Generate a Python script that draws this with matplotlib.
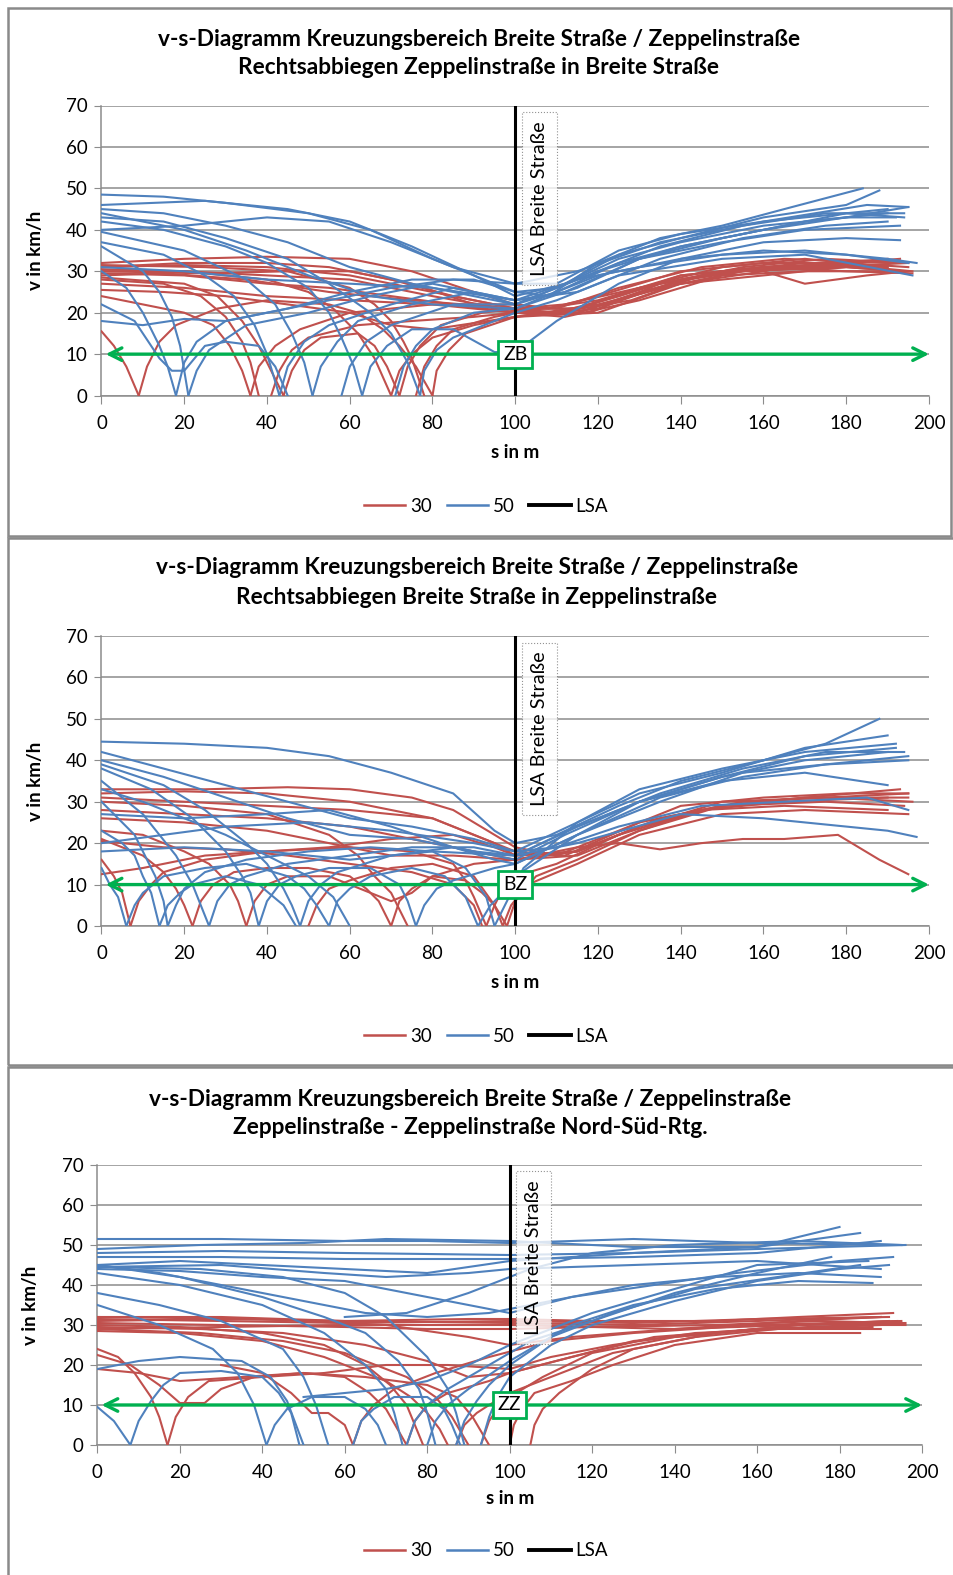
import matplotlib
matplotlib.use("Agg")
import matplotlib.pyplot as plt
from matplotlib.patches import Rectangle
from matplotlib.lines import Line2D

plt.rcParams['font.family'] = ['Lato', 'DejaVu Sans']

# Diagrammtitel
titles = [
    ("v-s-Diagramm Kreuzungsbereich Breite Straße / Zeppelinstraße",
     "Rechtsabbiegen Zeppelinstraße in Breite Straße"),
    ("v-s-Diagramm Kreuzungsbereich Breite Straße / Zeppelinstraße",
     "Rechtsabbiegen Breite Straße in Zeppelinstraße"),
    ("v-s-Diagramm Kreuzungsbereich Breite Straße / Zeppelinstraße",
     "Zeppelinstraße - Zeppelinstraße Nord-Süd-Rtg."),
]
zone_labels = ["ZB", "BZ", "ZZ"]
legend_labels = ["30", "50", "LSA"]
x_ticks = [0, 20, 40, 60, 80, 100, 120, 140, 160, 180, 200]
y_ticks = [0, 10, 20, 30, 40, 50, 60, 70]
lsa_pos = 100
zone_speed = 10

# Fahrkurven (s in m, v in km/h)
p1_red = [
    [(0,32),(20,33),(40,33.5),(60,33),(75,30),(90,25),(100,22),(108,21),(120,24),(140,30),(160,32),(180,32),(195,31)],
    [(0,31),(20,31.5),(40,31),(60,29),(80,25),(95,22),(100,21),(110,20),(125,24),(140,29),(160,31),(180,31.5),(196,30)],
    [(0,30),(20,30),(40,29),(60,28),(80,24),(100,20.5),(115,20),(130,25),(150,30),(170,32),(190,31)],
    [(0,29),(15,29.5),(35,28),(55,25),(75,23),(100,21),(115,21),(135,27),(155,31),(175,33),(195,32)],
    [(0,27),(20,26),(40,24),(60,23),(80,22),(100,20),(112,19),(130,23),(150,29),(170,30),(190,30)],
    [(0,25.5),(15,25),(30,24),(45,22),(60,20),(70,17),(80,16),(100,19),(120,22),(140,27),(160,30),(170,27),(185,29),(195,30)],
    [(0,31),(20,32),(40,32),(55,31),(70,28),(85,24),(100,21),(115,21),(130,26),(150,30),(170,31),(190,31.5)],
    [(0,30),(25,29.5),(45,30),(60,30),(75,27),(90,22),(100,20),(118,20),(135,27),(155,30),(180,31),(194,30)],
    [(0,29.5),(20,29),(40,27),(55,26),(70,24),(85,22),(100,20),(110,20),(128,23),(145,29),(165,31),(190,33)],
    [(0,31.5),(25,31),(45,30),(60,26),(66,22),(70,18),(73,13),(75,9),(78,0)],
    [(0,30.5),(20,30),(40,28),(50,25),(56,21),(62,15),(66,9),(70,0)],
    [(0,28),(15,27),(24,24),(30,19),(34,13),(36,8),(38,0)],
    [(0,15.5),(3,12),(6,7),(9,0)],
    [(9,0),(11,7),(14,13),(18,17),(28,21),(40,23),(55,22),(62,20),(68,16),(72,12),(76,7),(80,0)],
    [(36,0),(38,7),(42,12),(48,16),(60,20),(80,22),(100,22),(110,21),(125,26),(145,31),(165,33),(190,32)],
    [(41,0),(43,6),(46,11),(50,14),(62,17),(75,18),(90,19),(100,20),(115,20),(135,26),(155,30),(175,31),(195,32)],
    [(0,28.5),(20,27),(28,24),(34,18),(38,12),(41,6),(44,0)],
    [(70,0),(72,6),(75,10),(80,14),(90,17),(100,19),(120,21),(140,28),(160,31),(180,32),(193,33)],
    [(72,0),(74,7),(77,12),(82,17),(92,20),(100,21),(112,22),(130,26),(150,31),(170,33),(190,31)],
    [(76,0),(78,7),(81,12),(85,16),(95,19),(100,20),(120,23),(140,29),(160,31),(180,30),(196,29.5)],
    [(80,0),(81,6),(84,11),(88,15),(100,19),(120,20),(140,27),(160,29),(180,31),(193,30)],
    [(0,24),(10,22),(20,20),(27,17),(31,12),(34,6),(36,0)],
    [(44,0),(46,6),(49,11),(53,14),(62,15),(66,12),(69,7),(72,0)],
]
p1_blue = [
    [(0,48.5),(15,48),(30,46.5),(50,44),(65,40),(80,33),(95,27),(100,25),(108,24),(120,32),(135,38),(150,41),(165,45),(184,50)],
    [(0,46),(25,47),(45,45),(60,42),(75,36),(90,29),(100,24),(112,27),(125,34),(140,38),(160,43),(180,46),(188,49.5)],
    [(0,45),(15,44),(30,41),(45,37),(60,31),(75,27),(90,24),(100,22),(110,25),(125,32),(140,36),(160,40),(180,43),(195,45.5)],
    [(0,44),(20,40),(35,35),(50,29),(65,24),(80,22),(100,21),(115,26),(130,33),(150,38),(170,42),(190,44)],
    [(0,42),(15,40),(30,36),(40,32),(50,26),(55,20),(58,14),(61,7),(63,0)],
    [(0,40),(20,41),(40,43),(55,42),(70,37),(85,31),(100,27),(110,27),(125,35),(140,39),(160,42),(185,46),(195,45.5)],
    [(0,39.5),(20,35),(35,28),(42,22),(46,15),(49,8),(51,0)],
    [(0,37),(15,34),(25,29),(32,24),(37,17),(40,10),(43,0)],
    [(0,36),(10,30),(14,25),(17,19),(19,12),(21,0)],
    [(0,30),(6,26),(10,20),(14,12),(16,7),(18,0)],
    [(0,22),(8,18),(14,9),(17,6),(20,6),(25,12),(30,13),(38,12),(42,7),(45,0)],
    [(18,0),(20,8),(23,13),(30,18),(45,21),(60,25),(75,28),(90,28),(100,25),(110,26),(125,33),(140,37),(160,41),(180,43),(192,43)],
    [(21,0),(23,6),(26,11),(35,17),(50,20),(65,24),(80,27),(100,23),(115,25),(135,33),(155,38),(175,41),(190,42)],
    [(43,0),(45,7),(49,13),(55,17),(70,22),(85,26),(100,23),(112,25),(130,33),(150,37),(170,40),(193,41)],
    [(51,0),(53,7),(57,13),(62,18),(75,22),(90,25),(100,22),(115,28),(135,36),(155,41),(175,44),(194,44)],
    [(58,0),(60,7),(64,13),(70,17),(85,22),(100,22),(120,30),(140,36),(160,40),(180,44),(194,43)],
    [(63,0),(65,7),(69,12),(75,16),(85,16),(95,10.5),(98,10.5),(102,12),(110,18),(125,27),(140,33),(160,37),(180,38),(193,37.5)],
    [(71,0),(73,7),(76,12),(80,16),(90,20),(100,21),(120,29),(140,33),(160,35),(180,34),(195,32)],
    [(77,0),(78,6),(81,11),(85,14),(95,18),(100,20),(110,23),(125,29),(150,33),(170,34),(196,29)],
    [(0,31),(20,30),(40,28),(60,27),(80,26),(100,23),(115,28),(130,31),(150,34),(170,35),(190,33),(197,32)],
    [(0,18),(10,17),(20,18.5),(30,18),(40,20),(55,23),(70,26),(85,28),(100,27),(115,30),(135,37),(160,42),(190,45)],
    [(0,43),(15,42),(30,38),(45,33),(55,27),(65,20),(70,15),(74,8),(77,0)],
]

p2_red = [
    [(0,33),(25,33),(45,33.5),(60,33),(75,31),(85,28),(95,22),(100,19),(110,17),(125,23),(140,29),(160,31),(180,32),(195,32)],
    [(0,32),(20,32.5),(40,32),(60,30),(80,26),(95,20),(100,18),(112,17),(130,25),(150,29),(170,31),(195,31)],
    [(0,31),(20,30),(40,29),(60,28),(80,26),(95,20),(100,17),(115,18),(130,24),(150,30),(175,31),(196,30)],
    [(0,28),(20,27),(40,26),(60,24),(80,20),(100,16),(115,17),(130,23),(145,28),(165,29),(190,28)],
    [(0,26),(20,25),(40,23),(55,20),(70,17),(85,17),(100,16),(115,19),(125,20),(135,18.5),(145,20),(155,21),(165,21),(178,22),(188,16),(195,12.5)],
    [(0,23),(10,22),(20,18),(26,15),(31,10),(33,6),(35,0)],
    [(0,21),(10,17),(15,13),(18,9),(20,5),(22,0)],
    [(0,16),(3,12),(5,8),(7,0)],
    [(7,0),(9,6),(12,10),(15,13),(25,16),(40,18),(60,19),(75,18),(85,15),(88,11),(90,7),(93,0)],
    [(22,0),(24,6),(27,10),(32,13),(40,14),(50,14),(60,12),(64,9),(67,6),(70,0)],
    [(35,0),(37,6),(40,10),(45,12),(55,12),(65,8),(70,6),(75,8),(80,12),(90,15),(100,16),(115,18),(130,24),(150,29),(175,30),(194,29)],
    [(70,0),(72,6),(75,9),(80,12),(88,11),(92,8),(95,5),(98,0)],
    [(93,0),(95,5),(97,9),(100,12),(110,15),(125,22),(145,28),(165,30),(190,31)],
    [(0,12.5),(10,14),(25,17),(40,18),(55,19),(70,21),(85,22),(95,19),(100,17),(115,18),(135,26),(155,30),(175,31),(195,32)],
    [(50,0),(52,5),(55,9),(60,11),(70,14),(80,15),(90,12),(95,5),(97,0),(99,5),(103,10),(115,15),(130,22),(150,27),(170,28),(195,27)],
    [(0,30),(20,29),(40,27),(55,22),(62,17),(66,12),(70,8),(74,0)],
    [(98,0),(100,6),(105,12),(115,16),(130,23),(150,29),(170,31),(193,33)],
    [(0,20.5),(15,19),(30,18.5),(45,17),(60,15),(75,13),(85,10),(90,5),(92,0)],
]
p2_blue = [
    [(0,44.5),(20,44),(40,43),(55,41),(70,37),(85,32),(95,23),(100,20),(110,22),(125,29),(140,35),(160,40),(175,44),(188,50)],
    [(0,42),(15,38),(30,34),(45,30),(60,26),(75,24),(90,21),(100,18),(115,25),(130,32),(150,37),(170,43),(190,46)],
    [(0,40),(15,36),(30,31),(45,26),(60,22),(75,21),(90,18),(100,17),(115,24),(130,30),(150,36),(170,40),(190,42)],
    [(0,39),(15,34),(25,28),(35,20),(40,15),(44,9),(46,5),(48,0)],
    [(0,38),(12,33),(22,26),(30,18),(34,12),(36,8),(38,0)],
    [(0,35),(10,27),(18,17),(22,10),(24,5),(26,0)],
    [(0,30),(8,22),(11,16),(13,12),(15,6),(16,0)],
    [(0,27),(20,26),(40,27),(55,28),(70,24),(85,19),(95,16),(100,15),(115,22),(135,30),(155,37),(175,39),(195,41)],
    [(0,23),(5,20),(8,17),(10,12),(12,8),(14,0)],
    [(0,14),(2,10),(4,7),(6,0)],
    [(6,0),(8,5),(10,8),(15,12),(25,14),(35,15),(45,12),(49,9),(52,5),(55,0)],
    [(16,0),(18,5),(20,9),(25,13),(35,16),(50,18),(65,19),(80,18),(88,14),(93,7),(95,0)],
    [(26,0),(28,6),(31,10),(35,12),(45,15),(60,17),(75,19),(90,19),(100,17),(115,24),(135,32),(155,38),(175,42),(194,42)],
    [(38,0),(40,6),(43,10),(47,12),(55,14),(65,14),(72,10),(74,6),(76,0)],
    [(48,0),(50,6),(53,10),(57,13),(70,17),(85,19),(100,16),(112,22),(130,30),(150,36),(170,41),(192,43)],
    [(55,0),(57,6),(60,9),(65,12),(75,14),(83,12),(88,7),(91,0)],
    [(76,0),(78,5),(81,9),(85,11),(95,14),(100,15),(115,22),(135,31),(155,36),(175,39),(195,40)],
    [(91,0),(94,5),(97,8),(100,12),(115,22),(130,30),(150,35),(170,37),(190,34)],
    [(0,20),(15,22),(30,24),(50,25),(70,23),(90,20),(100,18),(110,19),(125,24),(145,29),(165,30),(185,31),(195,28)],
    [(0,18),(20,19),(40,18),(60,16),(80,18),(100,17),(115,20),(140,27),(160,26),(180,24),(190,23),(197,21.5)],
    [(14,0),(16,5),(19,8),(22,10),(30,12),(38,10),(44,5),(47,0)],
    [(95,0),(98,6),(102,14),(115,25),(130,33),(150,38),(170,42),(192,44)],
    [(0,33),(10,30),(20,26),(30,22),(40,17),(50,12),(56,7),(60,0)],
]

p3_red = [
    [(0,32),(30,32),(60,31),(90,31.5),(100,31.5),(120,31),(150,31),(170,32),(193,33)],
    [(0,31),(30,31.5),(60,31),(100,30.5),(130,30),(160,31),(190,32)],
    [(0,30.5),(30,30),(60,29.5),(80,29),(100,29),(120,29.5),(150,30),(175,31),(195,30.5)],
    [(0,31.5),(30,31),(60,30.5),(100,31),(130,30.5),(160,31.5),(192,32)],
    [(0,29),(30,29.5),(60,30),(100,30),(140,29),(170,30),(196,30.5)],
    [(0,32),(40,31.5),(70,30),(90,27),(100,25),(115,27),(140,29),(170,31),(190,32)],
    [(0,29.5),(25,29),(45,28),(65,25),(80,21),(90,17),(100,18),(115,22),(135,27),(160,29),(185,30),(196,30)],
    [(0,28.5),(20,28),(40,26),(55,22),(70,16),(76,12),(80,8),(83,4),(85,0)],
    [(0,30),(20,29.5),(40,28),(55,25),(65,20),(71,15),(75,10),(79,0)],
    [(0,29),(25,28),(45,26),(60,23),(75,17),(82,12),(86,7),(90,0)],
    [(0,24),(5,22),(9,18),(13,12),(15,7),(17,0)],
    [(0,22.5),(8,20),(15,15),(20,10.5),(26,10.5),(30,14),(38,17),(50,18),(60,17),(66,13),(70,9),(75,0)],
    [(17,0),(19,7),(22,12),(27,16),(40,17),(55,18),(70,20),(85,20),(100,19),(110,22),(125,25),(145,28),(165,29),(190,29)],
    [(30,20),(40,18),(47,13),(52,8),(56,8),(60,5),(62,0)],
    [(75,0),(77,6),(80,10),(85,13),(95,16),(100,18),(115,22),(130,26),(150,28),(170,30),(192,31)],
    [(87,0),(89,5),(92,8),(95,10),(100,13),(110,17),(125,23),(145,27),(165,29),(190,30)],
    [(93,0),(95,6),(97,9),(100,12),(108,17),(120,23),(140,27),(160,29),(188,29.5)],
    [(100,0),(101,5),(103,9),(106,13),(115,16),(125,20),(140,25),(160,28),(185,28)],
    [(105,0),(106,5),(108,9),(112,13),(120,19),(130,24),(150,28),(170,30),(194,31)],
    [(0,19),(10,18),(20,16),(35,17),(50,18),(65,17),(80,15),(87,12),(91,7),(95,0)],
    [(62,0),(64,6),(67,10),(72,14),(82,18),(95,22),(110,26),(130,28),(160,30),(195,31)],
]
p3_blue = [
    [(0,51.5),(30,51.5),(60,51),(80,51),(100,50.5),(130,51.5),(160,50.5),(195,50)],
    [(0,49),(25,50),(50,50.5),(70,51.5),(100,51),(130,49.5),(160,49.5),(185,53)],
    [(0,48),(30,48.5),(60,48),(100,47.5),(130,48),(160,49.5),(180,54.5)],
    [(0,47),(30,47),(60,46.5),(100,46.5),(130,47),(160,48),(190,51)],
    [(0,45),(20,46),(40,45),(60,44),(80,43),(100,46),(130,48),(160,49),(196,50)],
    [(0,44.5),(30,45),(55,43),(70,42),(90,43),(100,44),(130,45),(160,46),(190,44)],
    [(0,44),(20,43.5),(40,42),(60,41),(75,38),(90,35),(100,33),(115,37),(135,40),(155,43),(180,46),(193,47)],
    [(0,45),(15,43),(30,40),(50,36),(65,33),(80,32),(95,33),(110,36),(130,40),(150,42),(170,43),(190,42)],
    [(0,45),(20,42),(40,37),(55,32),(65,28),(73,21),(78,14),(80,8),(82,0)],
    [(0,43),(20,40),(40,35),(55,28),(65,20),(70,14),(72,8),(74,0)],
    [(0,44.5),(25,44),(45,42),(60,38),(70,32),(80,22),(85,14),(87,8),(89,0)],
    [(0,38),(15,35),(30,31),(45,24),(50,17),(53,10),(56,0)],
    [(0,35),(15,30),(28,24),(34,18),(38,10),(41,0)],
    [(0,19),(10,21),(20,22),(35,21),(42,17),(46,11),(50,0)],
    [(0,9.5),(4,6),(8,0),(10,6),(13,11),(16,15),(20,18),(30,18.5),(40,17),(44,13),(47,8),(49,0)],
    [(41,0),(43,5),(46,9),(52,12),(60,12),(65,9),(68,5),(70,0)],
    [(62,0),(64,6),(67,9),(72,12),(80,12),(84,9),(86,5),(88,0)],
    [(93,0),(95,7),(97,12),(100,17),(110,25),(120,30),(140,36),(160,41),(180,44),(192,45)],
    [(87,0),(89,6),(92,11),(95,15),(100,20),(110,27),(125,33),(145,39),(165,42),(185,45)],
    [(80,0),(82,6),(85,10),(90,14),(100,21),(115,30),(130,35),(150,39),(170,41),(188,40.5)],
    [(75,0),(77,6),(80,10),(85,14),(95,20),(105,26),(120,31),(140,38),(160,43),(178,47)],
    [(50,12),(60,13),(70,14),(80,16),(90,20),(100,25),(120,33),(140,39),(160,45),(187,46)],
    [(60,32),(75,33),(90,38),(105,44),(120,48),(140,50),(170,51),(195,50)],
]

panels = [(p1_red, p1_blue), (p2_red, p2_blue), (p3_red, p3_blue)]

W, H = 954, 1575
fig = plt.figure(figsize=(W / 100, H / 100), dpi=100)

RED = '#C0504D'
BLUE = '#4F81BD'
GREEN = '#00B050'
GRID = '#8C8C8C'

# Layout in Pixeln: Rahmen, Achsen, Titel, Achsentitel, Legende
frames = [(8, 8, 951, 536), (8, 538, 956, 1065), (8, 1067, 956, 1578)]
axes_px = [(101.5, 105.5, 929, 395.6), (101.5, 636, 929, 926), (97.4, 1165, 922, 1445)]
title_y = [(40, 68), (568, 597), (1099, 1127)]
title_x = [479, 477, 470]
xlabel_y = [452, 982, 1499]
legend_y = [506, 1036, 1551]

for i, (red, blue) in enumerate(panels):
    x0, y0, x1, y1 = frames[i]
    fig.add_artist(Rectangle((x0 / W, 1 - y1 / H), (x1 - x0) / W, (y1 - y0) / H,
                             transform=fig.transFigure, fill=False, ec='#8a8a8a', lw=1.8))

    l, t, r, b = axes_px[i]
    ax = fig.add_axes([l / W, 1 - b / H, (r - l) / W, (b - t) / H])

    for line in red:
        ax.plot([p[0] for p in line], [p[1] for p in line], color=RED, lw=1.5, zorder=3)
    for line in blue:
        ax.plot([p[0] for p in line], [p[1] for p in line], color=BLUE, lw=1.5, zorder=3)

    ax.axvline(lsa_pos, color='black', lw=2.2, zorder=5)

    ax.annotate('', xy=(200, zone_speed), xytext=(1, zone_speed),
                arrowprops=dict(arrowstyle='<->,head_length=0.9,head_width=0.45',
                                color=GREEN, lw=2.4, shrinkA=0, shrinkB=0), zorder=6)
    ax.text(lsa_pos, zone_speed, zone_labels[i], ha='center', va='center', fontsize=14,
            zorder=7, bbox=dict(boxstyle='square,pad=0.25', fc='white', ec=GREEN, lw=2))

    ax.text(lsa_pos + 5.8, 66.2, 'LSA Breite Straße', rotation=90, ha='center', va='top',
            fontsize=14.3, zorder=4,
            bbox=dict(boxstyle='square,pad=0.45', fc='white', alpha=0.8, ec='#777777', lw=0.8, ls=':'))

    ax.set_xlim(0, 200)
    ax.set_ylim(0, 70)
    ax.set_xticks(x_ticks)
    ax.set_yticks(y_ticks)
    ax.tick_params(axis='x', length=6, color=GRID, labelsize=13.5, pad=8)
    ax.tick_params(axis='y', length=5, color=GRID, labelsize=13.5, pad=5)
    ax.yaxis.grid(True, color=GRID, lw=1.1)
    ax.set_axisbelow(True)
    for side in ['top', 'right']:
        ax.spines[side].set_visible(False)
    for side in ['left', 'bottom']:
        ax.spines[side].set_color(GRID)
        ax.spines[side].set_linewidth(1.1)
    ax.set_ylabel('v in km/h', fontsize=13.5, fontweight='bold', labelpad=16)

    cx = (l + r) / 2
    fig.text(title_x[i] / W, 1 - title_y[i][0] / H, titles[i][0], ha='center', va='center',
             fontsize=16.3, fontweight='bold')
    fig.text(title_x[i] / W, 1 - title_y[i][1] / H, titles[i][1], ha='center', va='center',
             fontsize=16.3, fontweight='bold')
    fig.text(cx / W, 1 - xlabel_y[i] / H, 's in m', ha='center', va='center',
             fontsize=13.5, fontweight='bold')

    handles = [Line2D([], [], color=RED, lw=1.8), Line2D([], [], color=BLUE, lw=1.8),
               Line2D([], [], color='black', lw=2.8)]
    fig.legend(handles, legend_labels, loc='center', bbox_to_anchor=(486 / W, 1 - legend_y[i] / H),
               ncol=3, frameon=False, fontsize=13.5, handlelength=2.2, handletextpad=0.25,
               columnspacing=0.8)

fig.savefig('out.png', dpi=100)
